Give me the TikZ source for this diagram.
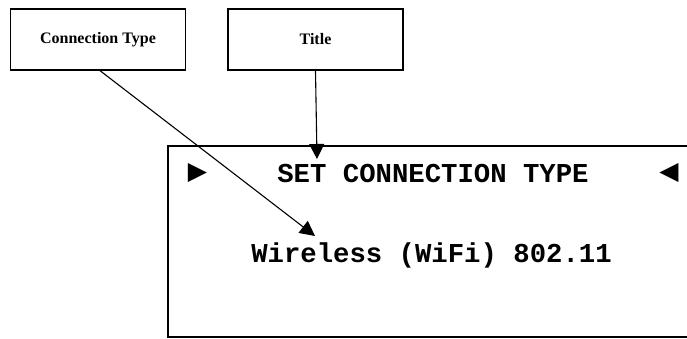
\documentclass[tikz,border=0pt]{standalone}
\usepackage{fontspec}
\setmainfont{Liberation Serif}
\setmonofont{Liberation Mono}
\newfontfamily\symfont{DejaVu Sans}
\usetikzlibrary{arrows.meta,positioning}

\begin{document}
\begin{tikzpicture}[x=1pt,y=-1pt,
  lbl/.style={draw,line width=1.3pt,minimum width=175pt,minimum height=61pt,
    inner sep=0pt,font=\fontsize{16}{18}\selectfont\bfseries},
  lcd/.style={inner sep=0pt,font=\fontsize{27.3}{30}\selectfont\ttfamily\bfseries},
  tri/.style={inner sep=0pt,font=\fontsize{25}{27}\selectfont\symfont},
  ar/.style={-{Triangle[length=15pt,width=15pt]},line width=1.1pt}]
\useasboundingbox (0,0) rectangle (687,338);
\node[lbl] (conn) at (98,39.5) {Connection Type};
\node[lbl] (title) at (315.5,39.5) {Title};
% display panel, cut at the right edge
\begin{scope}
\clip (0,0) rectangle (687,338);
\draw[line width=1.3pt] (700,146) -- (168,146) -- (168,337) -- (700,337);
\end{scope}
\node[tri] (lmark) at (197.5,173) {▶};
\node[tri] (rmark) at (669,173) {◀};
\node[lcd] (head) at (433,173) {SET CONNECTION TYPE};
\node[lcd] (value) at (431.5,255) {Wireless (WiFi) 802.11};
\coordinate (headtip) at (317,159);
\coordinate (valuetip) at (315,236);
\draw[ar] (title.south) -- (headtip);
\draw[ar] (conn.south) ++(2,0) -- (valuetip);
\end{tikzpicture}
\end{document}
